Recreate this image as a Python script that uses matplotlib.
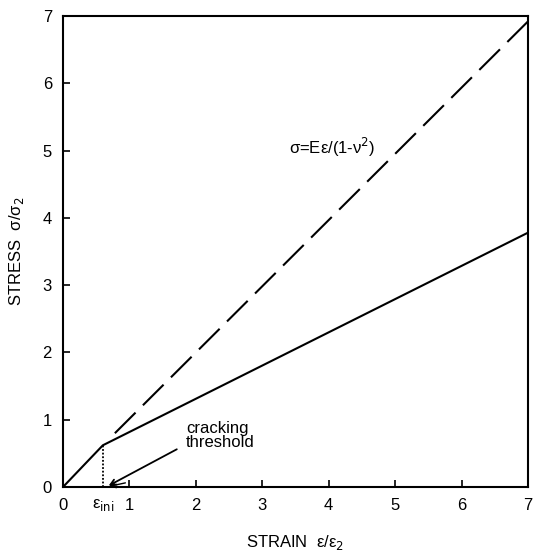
import numpy as np
import matplotlib
matplotlib.use('Agg')
import matplotlib.pyplot as plt

plt.rcParams['font.family'] = ['Liberation Sans', 'DejaVu Sans']

# Data
eps_ini = 0.6
kink_stress = 0.62
elastic_end = [7.0, 6.92]     # dashed elastic line end (strain, stress)
cracked_end = [7.0, 3.78]     # solid line end after cracking
ticks = [0, 1, 2, 3, 4, 5, 6, 7]

fig = plt.figure(figsize=(5.34, 5.54), dpi=100)
ax = fig.add_axes([63/534, 67/554, 465/534, 471/554])

# Initial elastic part and cracked branch
ax.plot([0, eps_ini, cracked_end[0]], [0, kink_stress, cracked_end[1]],
        color='black', lw=1.5)
# Uncracked elastic continuation (drawn from the top so a dash reaches the corner)
ax.plot([elastic_end[0], eps_ini + 0.08], [elastic_end[1], kink_stress + 0.08],
        color='black', lw=1.5, linestyle=(0, (14, 5)))
# Dotted drop line
ax.plot([eps_ini, eps_ini], [0, kink_stress], color='black', lw=1.3,
        linestyle=(0, (1, 1)))

# Arrows to cracking threshold
ax.annotate('', xy=(eps_ini + 0.05, 0.0), xytext=(1.75, 0.58),
            arrowprops=dict(arrowstyle='->', color='black', lw=1.3))
ax.annotate('', xy=(eps_ini + 0.05, 0.0), xytext=(0.98, 0.07),
            arrowprops=dict(arrowstyle='->', color='black', lw=1.0))

ax.text(1.85, 0.55, 'cracking\nthreshold', fontsize=12, ha='left',
        va='bottom', linespacing=0.95)
ax.text(3.4, 4.88, r'σ=Eε/(1-ν$^2$)', fontsize=12, ha='left', va='bottom')

ax.set_xlim(0, 7)
ax.set_ylim(0, 7)
ax.set_xticks(ticks)
ax.set_yticks(ticks)
ax.tick_params(direction='in', length=5, width=1.2, labelsize=12,
               pad=8)
for s in ax.spines.values():
    s.set_linewidth(1.5)

ax.text(eps_ini, -0.15, r'ε$_{\rm ini}$', fontsize=12, ha='center', va='top')

ax.set_xlabel(r'STRAIN  ε/ε$_2$', fontsize=12, labelpad=14)
ax.set_ylabel(r'STRESS  σ/σ$_2$', fontsize=12, labelpad=12)

fig.savefig('out.png', dpi=100)
